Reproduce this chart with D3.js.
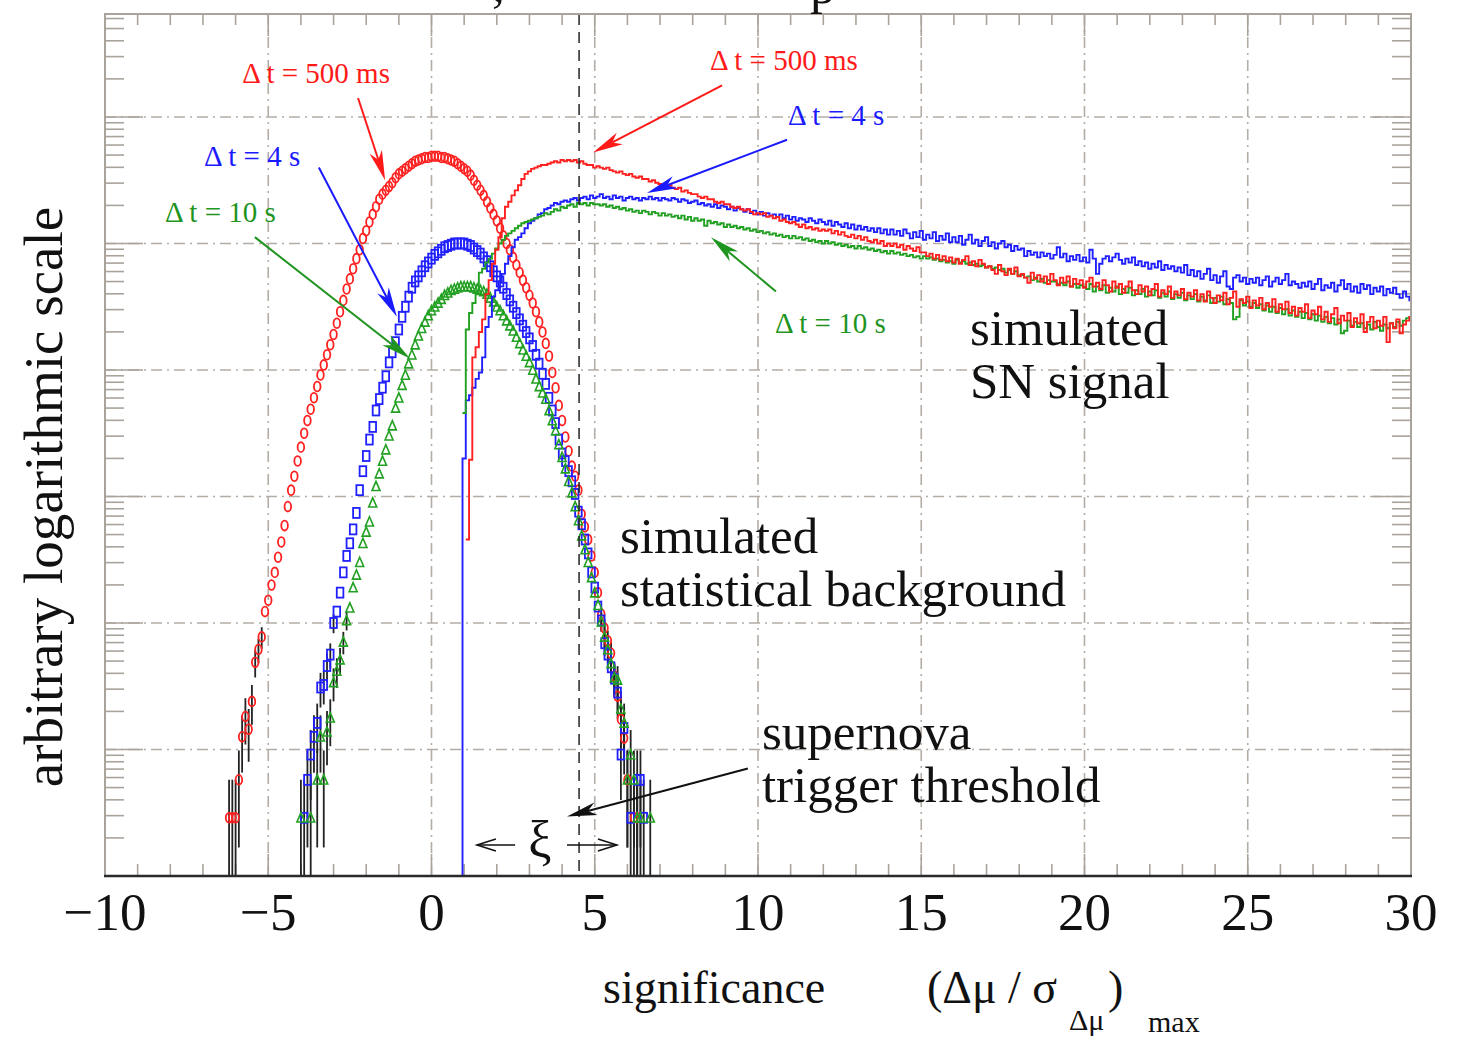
<!DOCTYPE html>
<html><head><meta charset="utf-8">
<script src="https://cdn.jsdelivr.net/npm/d3@7"></script>
<style>body{margin:0;background:#fff}svg{display:block}text{font-family:"Liberation Serif","Times New Roman",serif}</style>
</head><body>
<svg id="chart" width="1461" height="1037"></svg>
<script>
// ---------------- DATA ----------------
const xTicks = [-10,-5,0,5,10,15,20,25,30];
const xTickLabels = ["\u221210","\u22125","0","5","10","15","20","25","30"];
const yTopLog10 = 6.814;          // arbitrary units, log10 of top of axis
const oneEntryLog10 = 0.46;       // log10 level of a single entry (for error bars)
const thresholdX = 4.52;          // supernova trigger threshold

// background (markers): bin centres bgStart + i*bgWidth, values = log10(arbitrary)
const bgStart = -6.2, bgWidth = 0.1;
const bg500msLog = [
0.46,0.46,0.46,0.76,1.10,1.26,1.16,1.38,1.69,1.79,
1.89,2.09,2.18,2.30,2.40,2.52,2.64,2.77,2.92,3.05,
3.16,3.28,3.39,3.50,3.60,3.69,3.78,3.87,3.96,4.04,
4.12,4.20,4.28,4.37,4.46,4.55,4.64,4.72,4.80,4.88,
4.95,5.04,5.10,5.17,5.23,5.29,5.35,5.39,5.42,5.45,
5.48,5.52,5.55,5.57,5.59,5.61,5.63,5.65,5.66,5.67,
5.68,5.68,5.69,5.69,5.69,5.68,5.68,5.67,5.66,5.65,
5.63,5.61,5.59,5.57,5.54,5.50,5.46,5.42,5.38,5.33,
5.28,5.23,5.18,5.12,5.06,5.00,4.95,4.89,4.83,4.77,
4.71,4.65,4.59,4.53,4.46,4.38,4.30,4.21,4.11,3.98,
3.86,3.72,3.60,3.47,3.36,3.24,3.16,3.05,2.86,2.76,
2.66,2.53,2.40,2.24,2.07,1.96,1.86,1.76,1.58,1.42,
1.24,1.09,0.76,null,0.46,0.46,null,null,null,null,
null];
const bg4sLog = [
null,null,null,null,null,null,null,null,null,null,
null,null,null,null,null,null,null,null,null,null,
null,null,null,0.46,0.76,0.96,1.10,1.21,1.49,1.51,
1.66,1.75,2.00,2.09,2.24,2.40,2.53,2.63,2.74,2.87,
3.05,3.20,3.32,3.45,3.55,3.68,3.77,3.86,3.95,4.06,
4.14,4.22,4.32,4.42,4.50,4.58,4.65,4.70,4.74,4.78,
4.82,4.85,4.88,4.91,4.93,4.95,4.97,4.98,4.99,5.00,
5.00,5.00,5.00,4.99,4.98,4.96,4.94,4.92,4.89,4.86,
4.82,4.78,4.74,4.70,4.65,4.60,4.55,4.50,4.45,4.40,
4.35,4.30,4.25,4.19,4.12,4.05,3.97,3.89,3.78,3.68,
3.58,3.45,3.34,3.28,3.20,3.12,3.02,2.88,2.78,2.66,
2.55,2.40,2.28,2.13,2.02,1.84,1.75,1.65,1.56,1.45,
0.96,1.17,null,0.46,null,0.76,0.76,0.46,null,null,
null];
const bg10sLog = [
null,null,null,null,null,null,null,null,null,null,
null,null,null,null,null,null,null,null,null,null,
null,null,0.46,null,null,0.46,null,0.76,1.10,0.76,
1.14,1.25,1.53,1.62,1.71,1.85,2.02,2.12,2.28,2.38,
2.48,2.63,2.72,2.80,2.95,3.08,3.18,3.28,3.37,3.48,
3.56,3.70,3.78,3.88,3.96,4.05,4.12,4.20,4.27,4.33,
4.38,4.43,4.47,4.50,4.53,4.56,4.59,4.61,4.63,4.64,
4.65,4.66,4.66,4.66,4.66,4.65,4.64,4.63,4.62,4.60,
4.57,4.54,4.50,4.47,4.43,4.39,4.35,4.31,4.26,4.21,
4.16,4.11,4.06,4.00,3.93,3.87,3.82,3.77,3.68,3.60,
3.52,3.41,3.31,3.22,3.12,3.03,2.92,2.81,2.69,2.58,
2.48,2.36,2.24,2.14,2.01,1.89,1.79,1.68,1.57,1.55,
1.32,1.21,0.76,0.96,0.76,0.46,0.46,null,null,0.46,
null];

// signal (histograms): bins [sigStart + i*sigWidth, +sigWidth), values = log10(arbitrary)
const sigStart = 0.85, sigWidth = 0.1;
const sig500msLog = [null,null,
2.66,3.29,4.10,4.18,4.30,4.40,4.60,4.71,4.84,4.95,
5.05,5.20,5.29,5.33,5.38,5.42,5.46,5.51,5.55,5.57,
5.59,5.60,5.61,5.62,5.62,5.63,5.64,5.65,5.64,5.66,
5.65,5.66,5.65,5.66,5.64,5.65,5.63,5.62,5.62,5.60,
5.61,5.60,5.59,5.60,5.58,5.57,5.56,5.57,5.55,5.54,
5.55,5.53,5.52,5.53,5.51,5.51,5.49,5.50,5.48,5.47,
5.47,5.45,5.46,5.44,5.43,5.44,5.41,5.42,5.40,5.39,
5.39,5.37,5.36,5.37,5.35,5.35,5.33,5.32,5.33,5.31,
5.31,5.29,5.28,5.29,5.27,5.26,5.27,5.25,5.23,5.24,
5.23,5.24,5.21,5.22,5.20,5.21,5.18,5.19,5.17,5.16,
5.17,5.15,5.13,5.15,5.12,5.13,5.11,5.12,5.10,5.11,
5.10,5.11,5.08,5.10,5.07,5.09,5.06,5.05,5.07,5.04,
5.06,5.03,5.05,5.02,5.01,5.03,5.00,5.02,4.98,5.00,
4.98,5.00,4.97,4.99,4.95,4.98,4.96,4.94,4.97,4.93,
4.93,4.90,4.92,4.88,4.91,4.87,4.90,4.86,4.89,4.85,
4.88,4.84,4.87,4.90,4.83,4.86,4.82,4.87,4.84,4.81,
4.82,4.79,4.76,4.83,4.78,4.75,4.80,4.76,4.81,4.74,
4.76,4.73,4.69,4.77,4.72,4.75,4.70,4.74,4.68,4.76,
4.71,4.67,4.73,4.69,4.74,4.66,4.72,4.68,4.71,4.65,
4.70,4.73,4.66,4.69,4.64,4.71,4.67,4.62,4.70,4.65,
4.68,4.61,4.66,4.70,4.63,4.60,4.67,4.62,4.66,4.59,
4.64,4.68,4.58,4.63,4.60,4.66,4.57,4.62,4.59,4.64,
4.56,4.61,4.58,4.63,4.55,4.60,4.54,4.62,4.57,4.53,
4.59,4.55,4.61,4.52,4.57,4.62,4.50,4.56,4.53,4.58,
4.49,4.55,4.51,4.57,4.48,4.53,4.50,4.56,4.46,4.52,
4.48,4.54,4.45,4.50,4.43,4.49,4.46,4.52,4.41,4.47,
4.44,4.50,4.40,4.46,4.38,4.44,4.49,4.37,4.43,4.39,
4.45,4.34,4.41,4.37,4.44,4.30,4.38,4.42,4.33,4.39,
4.35,4.42,4.22,4.37,4.33,4.40,4.29,4.36,4.39,4.42];
const sig4sLog = [-1,3.30,
3.76,3.80,3.86,3.93,3.98,4.10,4.34,4.42,4.58,4.63,
4.70,4.76,4.84,4.90,4.97,5.03,5.05,5.08,5.12,5.16,
5.18,5.20,5.23,5.24,5.27,5.28,5.30,5.32,5.31,5.33,
5.34,5.33,5.35,5.36,5.34,5.36,5.37,5.35,5.38,5.36,
5.37,5.39,5.36,5.37,5.35,5.38,5.36,5.37,5.34,5.36,
5.37,5.35,5.36,5.34,5.36,5.35,5.37,5.35,5.36,5.34,
5.36,5.35,5.34,5.36,5.35,5.33,5.35,5.34,5.32,5.33,
5.34,5.31,5.32,5.30,5.31,5.29,5.31,5.28,5.30,5.29,
5.27,5.29,5.26,5.28,5.27,5.25,5.27,5.24,5.26,5.23,
5.25,5.22,5.24,5.22,5.23,5.21,5.23,5.20,5.22,5.19,
5.21,5.18,5.20,5.19,5.17,5.20,5.18,5.16,5.19,5.17,
5.15,5.18,5.14,5.17,5.15,5.13,5.16,5.12,5.15,5.11,
5.14,5.11,5.13,5.10,5.12,5.09,5.12,5.08,5.11,5.07,
5.11,5.07,5.10,5.06,5.11,5.08,5.04,5.09,5.05,5.10,
5.03,5.07,5.04,5.09,5.02,5.06,5.03,5.08,5.01,5.05,
5.01,5.06,4.99,5.03,5.07,5.00,5.03,4.98,5.02,5.05,
4.98,5.01,4.96,5.00,5.02,4.97,4.99,4.94,4.98,4.95,
4.96,4.90,4.94,4.91,4.93,4.89,4.93,4.90,4.92,4.88,
4.91,4.97,4.89,4.92,4.86,4.90,4.87,4.91,4.86,4.89,
4.85,4.95,4.88,4.76,4.84,4.88,4.90,4.86,4.89,4.92,
4.87,4.84,4.88,4.85,4.89,4.83,4.86,4.82,4.85,4.80,
4.84,4.81,4.86,4.79,4.83,4.80,4.82,4.78,4.81,4.77,
4.83,4.75,4.79,4.74,4.78,4.72,4.76,4.80,4.71,4.75,
4.69,4.74,4.78,4.66,4.64,4.73,4.75,4.70,4.73,4.68,
4.72,4.69,4.73,4.67,4.71,4.74,4.66,4.70,4.73,4.68,
4.71,4.76,4.67,4.70,4.68,4.65,4.69,4.66,4.70,4.64,
4.68,4.72,4.63,4.67,4.65,4.69,4.62,4.67,4.71,4.64,
4.68,4.62,4.66,4.61,4.68,4.64,4.67,4.60,4.65,4.62,
4.66,4.59,4.64,4.61,4.65,4.60,4.57,4.62,4.58,4.55];
const sig10sLog = [null,3.66,
4.32,4.45,4.53,4.62,4.77,4.80,4.85,4.88,4.92,4.96,
5.00,5.03,5.06,5.08,5.10,5.12,5.14,5.16,5.17,5.18,
5.19,5.20,5.21,5.22,5.24,5.23,5.25,5.27,5.26,5.29,
5.28,5.30,5.31,5.29,5.32,5.31,5.32,5.30,5.32,5.31,
5.31,5.30,5.31,5.29,5.30,5.28,5.29,5.27,5.28,5.26,
5.27,5.25,5.26,5.24,5.26,5.25,5.23,5.25,5.24,5.22,
5.24,5.22,5.23,5.21,5.22,5.20,5.22,5.19,5.21,5.18,
5.20,5.18,5.19,5.14,5.18,5.16,5.17,5.15,5.16,5.13,
5.15,5.13,5.14,5.12,5.13,5.11,5.12,5.10,5.11,5.09,
5.10,5.08,5.09,5.07,5.08,5.06,5.07,5.05,5.06,5.04,
5.06,5.04,5.05,5.03,5.04,5.02,5.03,5.01,5.02,5.00,
5.02,5.00,5.01,4.99,5.00,4.98,4.99,4.97,4.98,4.96,
4.98,4.96,4.97,4.95,4.96,4.94,4.95,4.93,4.94,4.92,
4.94,4.92,4.93,4.91,4.92,4.90,4.91,4.89,4.90,4.88,
4.90,4.88,4.89,4.87,4.88,4.86,4.87,4.85,4.86,4.84,
4.87,4.85,4.86,4.84,4.85,4.83,4.84,4.82,4.83,4.81,
4.82,4.80,4.81,4.79,4.80,4.77,4.79,4.76,4.78,4.75,
4.75,4.73,4.74,4.71,4.73,4.70,4.72,4.69,4.71,4.70,
4.70,4.68,4.69,4.67,4.70,4.66,4.68,4.65,4.67,4.66,
4.64,4.68,4.62,4.66,4.63,4.67,4.61,4.65,4.62,4.66,
4.60,4.64,4.61,4.65,4.59,4.63,4.60,4.64,4.58,4.62,
4.59,4.63,4.57,4.61,4.58,4.62,4.56,4.60,4.57,4.61,
4.55,4.59,4.56,4.60,4.54,4.58,4.55,4.59,4.53,4.57,
4.54,4.58,4.52,4.56,4.53,4.40,4.42,4.55,4.51,4.54,
4.50,4.53,4.49,4.52,4.47,4.51,4.46,4.50,4.45,4.49,
4.44,4.48,4.43,4.47,4.42,4.46,4.41,4.45,4.40,4.44,
4.39,4.43,4.38,4.42,4.37,4.41,4.36,4.40,4.29,4.31,
4.39,4.35,4.38,4.34,4.37,4.33,4.36,4.32,4.38,4.34,
4.31,4.36,4.33,4.37,4.34,4.38,4.35,4.39,4.41,4.42];

// annotations in data coordinates [x, log10 y]
const labels = [
  {t:"\u0394 t = 500 ms", c:"#ff1a1a", at:[-5.80,6.27], from:[-2.25,6.15], to:[-1.42,5.50]},
  {t:"\u0394 t = 4 s",    c:"#1a1aff", at:[-6.97,5.61], from:[-3.45,5.60], to:[-1.06,4.42]},
  {t:"\u0394 t = 10 s",   c:"#1f941f", at:[-8.16,5.17], from:[-5.41,5.05], to:[-0.66,4.09]},
  {t:"\u0394 t = 500 ms", c:"#ff1a1a", at:[8.53,6.37],  from:[8.90,6.25],  to:[4.95,5.72]},
  {t:"\u0394 t = 4 s",    c:"#1a1aff", at:[10.92,5.94], from:[10.89,5.82], to:[6.60,5.40]},
  {t:"\u0394 t = 10 s",   c:"#1f941f", at:[10.52,4.29], from:[10.55,4.62], to:[8.56,5.05]}
];
const blockTexts = [
  {lines:["simulated","SN signal"], at:[16.49,4.20]},
  {lines:["simulated","statistical background"], at:[5.77,2.55]},
  {lines:["supernova","trigger threshold"], at:[10.12,1.00]}
];

// ---------------- CHART ----------------
const W=1461, H=1037, L=105, R=1411, T=14, B=876;
const svg = d3.select("#chart");
const x = d3.scaleLinear().domain([-10,30]).range([L,R]);
const y = d3.scaleLog().domain([1, Math.pow(10,yTopLog10)]).range([B,T]);
const yl = v => y(Math.pow(10,v));
const frameCol="#aaa39b", gridCol="#b4ada5";

svg.append("defs").append("clipPath").attr("id","plot")
  .append("rect").attr("x",L).attr("y",T).attr("width",R-L).attr("height",B-T);

// grid
const g = svg.append("g");
const gx = xTicks.filter(v=>v>-10 && v<30);
g.selectAll(".vg").data(gx).join("line").attr("x1",d=>x(d)).attr("x2",d=>x(d)).attr("y1",T).attr("y2",B)
  .attr("stroke",gridCol).attr("stroke-width",1.6).attr("stroke-dasharray","11,5,2,5");
const isDec = v=>Math.abs(Math.log10(v)-Math.round(Math.log10(v)))<1e-9;
const decades = y.ticks(30).filter(v=>isDec(v) && v>1);
g.selectAll(".hg").data(decades).join("line").attr("x1",L).attr("x2",R).attr("y1",d=>y(d)).attr("y2",d=>y(d))
  .attr("stroke",gridCol).attr("stroke-width",1.6).attr("stroke-dasharray","11,5,2,5");

// ticks
const yt = y.ticks(30).filter(v=>v>1);
const tk = svg.append("g").attr("stroke",frameCol).attr("stroke-width",1.6);
tk.selectAll(".lt").data(yt).join("line").attr("x1",L).attr("x2",d=>L+(isDec(d)?38:19)).attr("y1",d=>y(d)).attr("y2",d=>y(d));
tk.selectAll(".rt").data(yt).join("line").attr("x1",R).attr("x2",d=>R-(isDec(d)?38:19)).attr("y1",d=>y(d)).attr("y2",d=>y(d));
const xt = d3.range(-9,30,1);
tk.selectAll(".tt").data(xt).join("line").attr("x1",d=>x(d)).attr("x2",d=>x(d)).attr("y1",T).attr("y2",d=>T+(d%5===0?22:11));
tk.selectAll(".bt").data(xt).join("line").attr("x1",d=>x(d)).attr("x2",d=>x(d)).attr("y1",B).attr("y2",d=>B-(d%5===0?22:12));

// background markers
const bgSeries = [
  {d:bg500msLog, c:"#ff2020", shape:"circle"},
  {d:bg4sLog, c:"#2020ff", shape:"square"},
  {d:bg10sLog, c:"#22a022", shape:"triangle"}
];
const mk = svg.append("g").attr("clip-path","url(#plot)");
const unit = Math.pow(10, oneEntryLog10);
bgSeries.forEach(s=>{
  s.d.forEach((v,i)=>{
    if(v===null) return;
    const cx = x(bgStart + i*bgWidth);
    const n = Math.pow(10,v)/unit;
    if(n < 40){
      const lo = (n-Math.sqrt(n))*unit, hi=(n+Math.sqrt(n))*unit;
      mk.append("line").attr("x1",cx).attr("x2",cx).attr("y1",lo>1e-6? y(Math.max(lo,1e-3)) : B+5).attr("y2",y(hi))
        .attr("stroke","#222").attr("stroke-width",1.8);
    }
  });
});
bgSeries.forEach(s=>{
  s.d.forEach((v,i)=>{
    if(v===null) return;
    const cx = x(bgStart + i*bgWidth), cy = yl(v);
    if(s.shape==="circle") mk.append("ellipse").attr("cx",cx).attr("cy",cy).attr("rx",3.3).attr("ry",4.9)
      .attr("fill","none").attr("stroke",s.c).attr("stroke-width",1.8);
    else if(s.shape==="square") mk.append("rect").attr("x",cx-3.3).attr("y",cy-5).attr("width",6.6).attr("height",10)
      .attr("fill","none").attr("stroke",s.c).attr("stroke-width",1.8);
    else mk.append("path").attr("d",`M${cx},${cy-5}L${cx+4},${cy+4.2}L${cx-4},${cy+4.2}Z`)
      .attr("fill","none").attr("stroke",s.c).attr("stroke-width",1.6);
  });
});

// signal histograms
const sigSeries = [
  {d:sig4sLog, c:"#2020ff"},
  {d:sig10sLog, c:"#22a022"},
  {d:sig500msLog, c:"#ff2020"}
];
const hist = svg.append("g").attr("clip-path","url(#plot)");
sigSeries.forEach(s=>{
  const pts = s.d.map((v,i)=>({e:sigStart+i*sigWidth, v}));
  pts.push({e:sigStart+s.d.length*sigWidth, v:s.d[s.d.length-1]});
  const line = d3.line().defined(p=>p.v!==null).x(p=>x(p.e)).y(p=>yl(p.v)).curve(d3.curveStepAfter);
  hist.append("path").attr("d",line(pts)).attr("fill","none").attr("stroke",s.c).attr("stroke-width",1.9);
});

// threshold line
svg.append("line").attr("x1",x(thresholdX)).attr("x2",x(thresholdX)).attr("y1",T).attr("y2",B)
  .attr("stroke","#222").attr("stroke-width",1.5).attr("stroke-dasharray","11,7");

// frame
svg.append("rect").attr("x",L).attr("y",T).attr("width",R-L).attr("height",B-T).attr("fill","none")
  .attr("stroke",frameCol).attr("stroke-width",2);
svg.append("line").attr("x1",L-1).attr("x2",R+1).attr("y1",B).attr("y2",B).attr("stroke","#2a2a2a").attr("stroke-width",2.6);

// tick labels
svg.selectAll(".xl").data(xTicks).join("text").attr("x",(d)=>x(d)).attr("y",930)
  .attr("text-anchor","middle").attr("font-size",53).attr("fill","#111").text((d,i)=>xTickLabels[i]);

// axis titles
svg.append("text").attr("transform","translate(62,497) rotate(-90)").attr("text-anchor","middle")
  .attr("font-size",55).attr("fill","#111").text("arbitrary logarithmic scale");
const xt1 = svg.append("g").attr("fill","#111");
xt1.append("text").attr("x",603).attr("y",1003).attr("font-size",46).text("significance");
xt1.append("text").attr("x",927).attr("y",1003).attr("font-size",46).text("(\u0394\u03bc / \u03c3");
xt1.append("text").attr("x",1069).attr("y",1030).attr("font-size",30).text("\u0394\u03bc");
xt1.append("text").attr("x",1108).attr("y",1003).attr("font-size",46).text(")");
xt1.append("text").attr("x",1148).attr("y",1032).attr("font-size",30).text("max");

// title fragments cropped at the top edge (as in the reference)
svg.append("text").attr("x",492).attr("y",1).attr("font-size",51).attr("fill","#111").text(",");
svg.append("text").attr("x",810).attr("y",3).attr("font-size",51).attr("fill","#111").text("p");

// arrows
function arrow(p1, p2, color, len=30, w=6.5){
  const [x1,y1]=p1,[x2,y2]=p2, dx=x2-x1, dy=y2-y1, D=Math.hypot(dx,dy), ux=dx/D, uy=dy/D, nx=-uy, ny=ux;
  const bx=x2-ux*len, by=y2-uy*len, mx=x2-ux*len*0.72, my=y2-uy*len*0.72;
  svg.append("line").attr("x1",x1).attr("y1",y1).attr("x2",mx).attr("y2",my).attr("stroke",color).attr("stroke-width",2);
  svg.append("path").attr("d",`M${x2},${y2}L${bx+nx*w},${by+ny*w}L${mx},${my}L${bx-nx*w},${by-ny*w}Z`).attr("fill",color);
}
const P = a => [x(a[0]), yl(a[1])];
labels.forEach(l=>{
  svg.append("text").attr("x",P(l.at)[0]).attr("y",P(l.at)[1]).attr("font-size",29).attr("fill",l.c).text(l.t);
  arrow(P(l.from), P(l.to), l.c);
});
blockTexts.forEach(b=>{
  const [px,py]=P(b.at);
  b.lines.forEach((t,i)=>svg.append("text").attr("x",px).attr("y",py+i*53).attr("font-size",51).attr("fill","#111").text(t));
});
arrow(P([9.69,0.85]), P([4.15,0.47]), "#111", 30, 6.5);

// xi with arrows
const xiY = yl(0.245);
svg.append("text").attr("x",x(3.32)).attr("y",xiY+12).attr("text-anchor","middle").attr("font-size",52).attr("fill","#111").text("\u03be");
function openArrow(xa, xb){
  const ya=xiY, dir = Math.sign(xb-xa);
  svg.append("line").attr("x1",xa).attr("x2",xb).attr("y1",ya).attr("y2",ya).attr("stroke","#111").attr("stroke-width",1.5);
  svg.append("path").attr("d",`M${xb-dir*19},${ya-6}L${xb},${ya}L${xb-dir*19},${ya+6}`).attr("fill","none").attr("stroke","#111").attr("stroke-width",1.5);
}
openArrow(x(2.56), x(1.39));
openArrow(x(4.15), x(5.68));
</script>
</body></html>
